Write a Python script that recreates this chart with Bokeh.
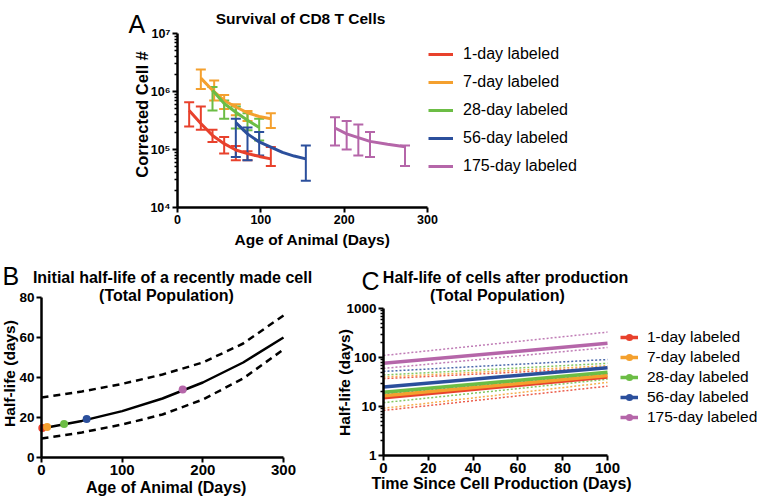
import math
from bokeh.plotting import figure
from bokeh.models import (ColumnDataSource, Whisker, TeeHead, Legend, LegendItem, Label,
                          FixedTicker, CustomJSTickFormatter, BasicTickFormatter, Range1d,
                          LinearAxis, LogAxis, LogScale)
from bokeh.embed import file_html
from bokeh.resources import INLINE

FONT = "Liberation Sans"

series_names = ["1-day labeled", "7-day labeled", "28-day labeled", "56-day labeled", "175-day labeled"]
colors = ["#e8412c", "#f4a02e", "#6cbd45", "#2b4f9c", "#b566a9"]

# ---------------- Panel A: Survival of CD8 T cells ----------------
a_red_day = [14, 28, 42, 56, 70, 84, 112]
a_red_lo = [2.5e5, 2.2e5, 1.35e5, 8.5e4, 6.5e4, 6.5e4, 5.2e4]
a_red_hi = [6.5e5, 5.5e5, 2.2e5, 1.65e5, 1.15e5, 9.3e4, 1.1e5]
a_red_fit_day = [14, 28, 42, 56, 70, 84, 98, 112]
a_red_fit = [4.7e5, 2.8e5, 1.75e5, 1.26e5, 9.8e4, 8.5e4, 7.6e4, 6.9e4]

a_orange_day = [28, 44, 56, 70, 84, 112]
a_orange_lo = [1.1e6, 7.0e5, 5.0e5, 3.9e5, 3.1e5, 2.35e5]
a_orange_hi = [2.4e6, 1.55e6, 8.7e5, 6.0e5, 4.6e5, 4.2e5]
a_orange_fit_day = [28, 42, 56, 70, 84, 98, 112]
a_orange_fit = [1.7e6, 1.05e6, 7.0e5, 5.4e5, 4.3e5, 3.7e5, 3.4e5]

a_green_day = [42, 56, 70, 84, 98]
a_green_lo = [4.7e5, 3.4e5, 2.3e5, 2.15e5, 1.43e5]
a_green_hi = [1.19e6, 7.0e5, 5.5e5, 4.2e5, 3.4e5]
a_green_fit_day = [42, 56, 70, 84, 98]
a_green_fit = [1.05e6, 6.2e5, 4.4e5, 3.2e5, 2.4e5]

a_blue_day = [70, 84, 98, 154]
a_blue_lo = [7.4e4, 6.5e4, 7.9e4, 2.9e4]
a_blue_hi = [3.4e5, 2.4e5, 2.0e5, 1.17e5]
a_blue_fit_day = [70, 84, 98, 112, 126, 140, 154]
a_blue_fit = [2.9e5, 1.86e5, 1.35e5, 1.1e5, 8.9e4, 7.7e4, 6.9e4]

a_purple_day = [189, 203, 217, 231, 273]
a_purple_lo = [1.17e5, 1.0e5, 7.9e4, 7.4e4, 5.2e4]
a_purple_hi = [3.6e5, 3.1e5, 2.7e5, 2.0e5, 1.17e5]
a_purple_fit_day = [189, 203, 217, 231, 252, 273]
a_purple_fit = [2.35e5, 1.86e5, 1.6e5, 1.38e5, 1.23e5, 1.12e5]

a_x_ticks = [0, 100, 200, 300]
a_y_ticks = [1e4, 1e5, 1e6, 1e7]

# ---------------- Panel B: initial half-life ----------------
b_age = [0, 50, 100, 150, 200, 250, 300]
b_fit = [14.5, 18.3, 23.2, 29.5, 37.5, 47.5, 60]
b_upper = [30, 33, 36.8, 41.5, 47.5, 57, 71]
b_lower = [9.5, 12.5, 16.5, 21.5, 29, 39.5, 54]
b_point_age = [1, 7, 28, 56, 175]
b_point_half = [14.7, 15.2, 16.8, 19.2, 34]
b_x_ticks = [0, 100, 200, 300]
b_y_ticks = [0, 20, 40, 60, 80]

# ---------------- Panel C: half-life after production ----------------
c_time = [0, 100]
c_red = [15, 40]
c_red_up = [37, 62]
c_red_lo = [8.3, 26]
c_orange = [16.5, 43]
c_orange_up = [40, 68]
c_orange_lo = [9.2, 31]
c_green = [19.5, 50]
c_green_up = [44, 76]
c_green_lo = [12, 36]
c_blue = [25, 62]
c_blue_up = [52, 91]
c_blue_lo = [18, 46]
c_purple = [76, 195]
c_purple_up = [110, 330]
c_purple_lo = [60, 160]
c_x_ticks = [0, 20, 40, 60, 80, 100]
c_y_ticks = [1, 10, 100, 1000]

# ---------------- canvas / panel placement (pixels from the canvas bottom-left) ----------------
W, H = 762, 498


def lin_range(v0, p0, v1, p1, size):
    s = (p1 - p0) / (v1 - v0)
    start = v0 - p0 / s
    return Range1d(start, start + size / s)


def log_range(v0, p0, v1, p1, size):
    l0, l1 = math.log10(v0), math.log10(v1)
    s = (p1 - p0) / (l1 - l0)
    start = l0 - p0 / s
    return Range1d(10 ** start, 10 ** (start + size / s))


def minor_log(ticks):
    return [m * t for t in ticks[:-1] for m in range(2, 10)]


p = figure(width=W, height=H, x_range=Range1d(0, W), y_range=Range1d(0, H),
           x_axis_location=None, y_axis_location=None, min_border=0,
           output_backend="svg", toolbar_location=None)
p.outline_line_color = None
p.grid.visible = False

p.extra_x_ranges = {
    "ax": lin_range(0, 177, 300, 427, W),
    "bx": lin_range(0, 41, 300, 283, W),
    "cx": lin_range(0, 383, 100, 607, W),
}
p.extra_y_ranges = {
    "ay": log_range(1e4, H - 207, 1e7, H - 33, H),
    "by": lin_range(0, H - 457, 80, H - 297, H),
    "cy": log_range(1, H - 455, 1000, H - 308, H),
}
p.extra_y_scales = {"ay": LogScale(), "cy": LogScale()}


def style_axis(ax, tick_px):
    ax.axis_line_width = 2.5
    ax.axis_line_color = "black"
    ax.major_tick_line_width = 2
    ax.major_tick_line_color = "black"
    ax.major_tick_out = 5
    ax.major_tick_in = 0
    ax.minor_tick_line_width = 1.5
    ax.minor_tick_line_color = "black"
    ax.minor_tick_out = 3
    ax.minor_tick_in = 0
    ax.major_label_text_font = FONT
    ax.major_label_text_font_style = "bold"
    ax.major_label_text_color = "black"
    ax.major_label_text_font_size = f"{tick_px}px"
    ax.major_label_standoff = 2
    return ax


def text(x, y, t, size, bold=True, align="center", baseline="middle", angle=0.0):
    # x, y given in canvas pixels measured from the top-left corner
    p.add_layout(Label(x=x, y=H - y, text=t, angle=angle, text_align=align, text_baseline=baseline,
                       text_font=FONT, text_font_size=f"{size}px",
                       text_font_style="bold" if bold else "normal", text_color="black"))


def legend(items, left, bottom, font_px, glyph_w, spacing, standoff):
    p.add_layout(Legend(items=items, location=(left, H - bottom), label_text_font=FONT,
                        label_text_font_size=f"{font_px}px", label_text_color="black",
                        glyph_width=glyph_w, glyph_height=20,
                        label_height=20, spacing=spacing, padding=0, margin=0,
                        border_line_color=None, background_fill_alpha=0, label_standoff=standoff,
                        label_text_baseline="middle"))


sup_fmt = CustomJSTickFormatter(code="""
const sup = {"0":"\u2070","1":"\u00b9","2":"\u00b2","3":"\u00b3","4":"\u2074","5":"\u2075","6":"\u2076","7":"\u2077","8":"\u2078","9":"\u2079","-":"\u207b"};
const e = Math.round(Math.log10(tick));
return "10" + String(e).split("").map(c => sup[c]).join("");
""")

# ---------------- Panel A ----------------
axA_x = style_axis(LinearAxis(x_range_name="ax", y_range_name="ay", fixed_location=1e4,
                              bounds=(0, 300), ticker=FixedTicker(ticks=a_x_ticks)), 12.5)
axA_x.minor_tick_line_color = None
axA_y = style_axis(LogAxis(x_range_name="ax", y_range_name="ay", fixed_location=0,
                           bounds=(1e4, 1e7),
                           ticker=FixedTicker(ticks=a_y_ticks, minor_ticks=minor_log(a_y_ticks)),
                           formatter=sup_fmt), 12.5)
p.add_layout(axA_x, "below")
p.add_layout(axA_y, "left")

a_sets = [
    (a_red_day, a_red_lo, a_red_hi, a_red_fit_day, a_red_fit),
    (a_orange_day, a_orange_lo, a_orange_hi, a_orange_fit_day, a_orange_fit),
    (a_green_day, a_green_lo, a_green_hi, a_green_fit_day, a_green_fit),
    (a_blue_day, a_blue_lo, a_blue_hi, a_blue_fit_day, a_blue_fit),
    (a_purple_day, a_purple_lo, a_purple_hi, a_purple_fit_day, a_purple_fit),
]
legA_items = []
for (day, lo, hi, fday, fit), c, name in zip(a_sets, colors, series_names):
    src = ColumnDataSource(dict(x=day, lo=lo, hi=hi))
    p.add_layout(Whisker(source=src, base="x", lower="lo", upper="hi", line_color=c, line_width=2,
                         x_range_name="ax", y_range_name="ay",
                         upper_head=TeeHead(size=10, line_color=c, line_width=2),
                         lower_head=TeeHead(size=10, line_color=c, line_width=2)))
    r = p.line(fday, fit, line_width=3, line_color=c, x_range_name="ax", y_range_name="ay")
    legA_items.append(LegendItem(label=name, renderers=[r]))
legend(legA_items, 428, 176, 16, 25, 8, 10)

text(128, 23, "A", 25, bold=False, align="left", baseline="alphabetic")
text(300, 18, "Survival of CD8 T Cells", 15.5)
text(312, 239, "Age of Animal (Days)", 15.5)
text(141, 114, "Corrected Cell #", 16.5, angle=math.pi / 2)

# ---------------- Panel B ----------------
axB_x = style_axis(LinearAxis(x_range_name="bx", y_range_name="by", fixed_location=0,
                              bounds=(0, 300), ticker=FixedTicker(ticks=b_x_ticks)), 15)
axB_y = style_axis(LinearAxis(x_range_name="bx", y_range_name="by", fixed_location=0,
                              bounds=(0, 80), ticker=FixedTicker(ticks=b_y_ticks)), 13.5)
axB_x.minor_tick_line_color = None
axB_y.minor_tick_line_color = None
p.add_layout(axB_x, "below")
p.add_layout(axB_y, "left")

p.line(b_age, b_upper, line_width=2.5, line_color="black", line_dash="7 5", x_range_name="bx", y_range_name="by")
p.line(b_age, b_lower, line_width=2.5, line_color="black", line_dash="7 5", x_range_name="bx", y_range_name="by")
p.line(b_age, b_fit, line_width=2.5, line_color="black", x_range_name="bx", y_range_name="by")
p.scatter(b_point_age, b_point_half, size=8, color=colors, line_color=None, x_range_name="bx", y_range_name="by")

text(2, 275, "B", 25, bold=False, align="left", baseline="alphabetic")
text(172, 277, "Initial half-life of a recently made cell", 16)
text(166, 295, "(Total Population)", 16)
text(166, 487, "Age of Animal (Days)", 16)
text(9, 373, "Half-life (days)", 15.5, angle=math.pi / 2)

# ---------------- Panel C ----------------
axC_x = style_axis(LinearAxis(x_range_name="cx", y_range_name="cy", fixed_location=1,
                              bounds=(0, 100), ticker=FixedTicker(ticks=c_x_ticks)), 15)
axC_y = style_axis(LogAxis(x_range_name="cx", y_range_name="cy", fixed_location=0,
                           bounds=(1, 1000),
                           ticker=FixedTicker(ticks=c_y_ticks, minor_ticks=minor_log(c_y_ticks)),
                           formatter=BasicTickFormatter()), 13.5)
axC_x.minor_tick_line_color = None
p.add_layout(axC_x, "below")
p.add_layout(axC_y, "left")

c_sets = [
    (c_red, c_red_up, c_red_lo),
    (c_orange, c_orange_up, c_orange_lo),
    (c_green, c_green_up, c_green_lo),
    (c_blue, c_blue_up, c_blue_lo),
    (c_purple, c_purple_up, c_purple_lo),
]
for (mid, up, lo), c in zip(c_sets, colors):
    for band in (up, lo):
        p.line(c_time, band, line_width=1.5, line_color=c, line_dash="2 2", line_alpha=0.85,
               x_range_name="cx", y_range_name="cy")
legC_items = []
for (mid, up, lo), c, name in zip(c_sets, colors, series_names):
    src = ColumnDataSource(dict(t=c_time, h=mid))
    r = p.line("t", "h", source=src, line_width=3.5, line_color=c, x_range_name="cx", y_range_name="cy")
    # zero-size marker: invisible in the plot, gives the legend key its dot
    s = p.scatter("t", "h", source=src, size=0, color=c, line_color=None,
                  x_range_name="cx", y_range_name="cy")
    legC_items.append(LegendItem(label=name, renderers=[r, s]))
legend(legC_items, 620, 427, 15.5, 18, 0, 9)

text(361, 280, "C", 25, bold=False, align="left", baseline="alphabetic")
text(505, 277, "Half-life of cells after production", 16)
text(497, 295, "(Total Population)", 16)
text(501, 483, "Time Since Cell Production (Days)", 16)
text(344, 382, "Half-life (days)", 15.5, angle=math.pi / 2)

open("out.html", "w").write(file_html(p, INLINE))
